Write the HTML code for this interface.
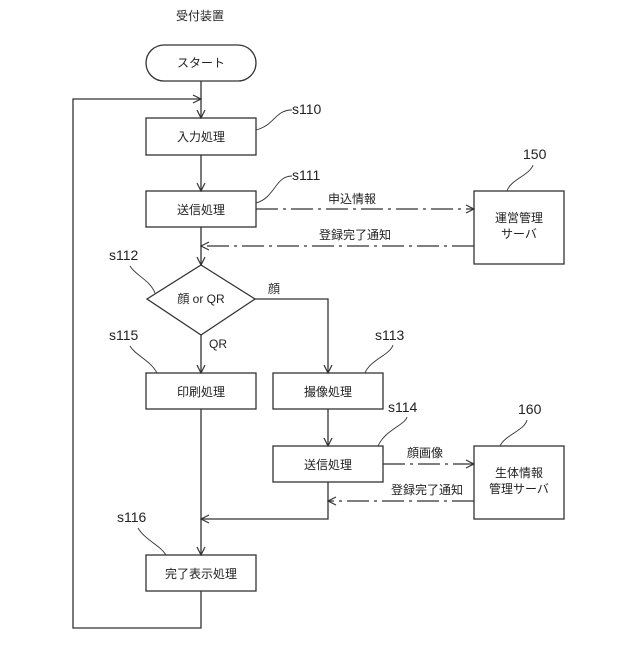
<!DOCTYPE html>
<html><head><meta charset="utf-8"><style>
body{margin:0;background:#fff}
svg text{font-family:"Liberation Sans","Noto Sans CJK JP",sans-serif;fill:#222}
</style></head><body>
<svg width="640" height="640" viewBox="0 0 640 640" xmlns="http://www.w3.org/2000/svg">
<defs>
<marker id="a" markerWidth="10" markerHeight="10" refX="9" refY="5" orient="auto" markerUnits="userSpaceOnUse">
<path d="M1,1 L9,5 L1,9" fill="none" stroke="#333" stroke-width="1.2"/></marker>
</defs>
<g stroke="#333" stroke-width="1.3" fill="none">
<rect x="146" y="45" width="110" height="36" rx="18"/>
<rect x="146" y="118" width="110" height="37"/>
<rect x="146" y="191" width="110" height="36"/>
<polygon points="201,265 255,299 201,335 147,299"/>
<rect x="146" y="373" width="110" height="36"/>
<rect x="273" y="373" width="110" height="36"/>
<rect x="273" y="446" width="110" height="36"/>
<rect x="146" y="555" width="110" height="36"/>
<rect x="474" y="191" width="90" height="73"/>
<rect x="474" y="446" width="90" height="73"/>
<line x1="201" y1="81" x2="201" y2="118" marker-end="url(#a)"/>
<polyline points="201,591 201,628 73,628 73,99 201,99" marker-end="url(#a)"/>
<line x1="201" y1="155" x2="201" y2="191" marker-end="url(#a)"/>
<line x1="201" y1="227" x2="201" y2="265" marker-end="url(#a)"/>
<line x1="201" y1="335" x2="201" y2="373" marker-end="url(#a)"/>
<polyline points="255,299 328,299 328,373" marker-end="url(#a)"/>
<line x1="328" y1="409" x2="328" y2="446" marker-end="url(#a)"/>
<line x1="201" y1="409" x2="201" y2="555" marker-end="url(#a)"/>
<polyline points="328,482 328,519 201,519" marker-end="url(#a)"/>
<g stroke-dasharray="22,5,3,5">
<line x1="256" y1="209" x2="474" y2="209" marker-end="url(#a)"/>
<line x1="474" y1="246" x2="201" y2="246" marker-end="url(#a)"/>
<line x1="383" y1="464" x2="474" y2="464" marker-end="url(#a)"/>
<line x1="474" y1="501" x2="328" y2="501" marker-end="url(#a)"/>
</g>
<g stroke-width="0.9">
<path d="M256,130 C275,125 275,110 292,110"/>
<path d="M256,203 C275,198 275,176 292,176"/>
<path d="M130,266 C135,275 150,280 155,293"/>
<path d="M130,346 C135,355 150,360 157,373"/>
<path d="M365,373 C370,360 390,355 393,345"/>
<path d="M378,446 C385,430 405,425 407,417"/>
<path d="M138,528 C145,540 160,545 166,555"/>
<path d="M507,191 C510,180 530,175 533,165"/>
<path d="M500,446 C505,435 525,430 527,420"/>
</g>
</g>
<g font-size="12" text-anchor="middle">
<text x="200" y="20">受付装置</text>
<text x="201" y="67">スタート</text>
<text x="201" y="141">入力処理</text>
<text x="201" y="214">送信処理</text>
<text x="201" y="303">顔 or QR</text>
<text x="201" y="396">印刷処理</text>
<text x="328" y="396">撮像処理</text>
<text x="328" y="469">送信処理</text>
<text x="201" y="578">完了表示処理</text>
<text x="519" y="222">運営管理</text>
<text x="519" y="238">サーバ</text>
<text x="519" y="477">生体情報</text>
<text x="519" y="493">管理サーバ</text>
<text x="352" y="203">申込情報</text>
<text x="355" y="239">登録完了通知</text>
<text x="425" y="457">顔画像</text>
<text x="427" y="494">登録完了通知</text>
<text x="274" y="293">顔</text>
<text x="218" y="348">QR</text>
</g>
<g font-size="14">
<text x="292" y="114">s110</text>
<text x="292" y="180">s111</text>
<text x="109" y="260">s112</text>
<text x="109" y="340">s115</text>
<text x="375" y="340">s113</text>
<text x="388" y="412">s114</text>
<text x="117" y="522">s116</text>
<text x="523" y="159">150</text>
<text x="518" y="414">160</text>
</g>
</svg>
</body></html>
